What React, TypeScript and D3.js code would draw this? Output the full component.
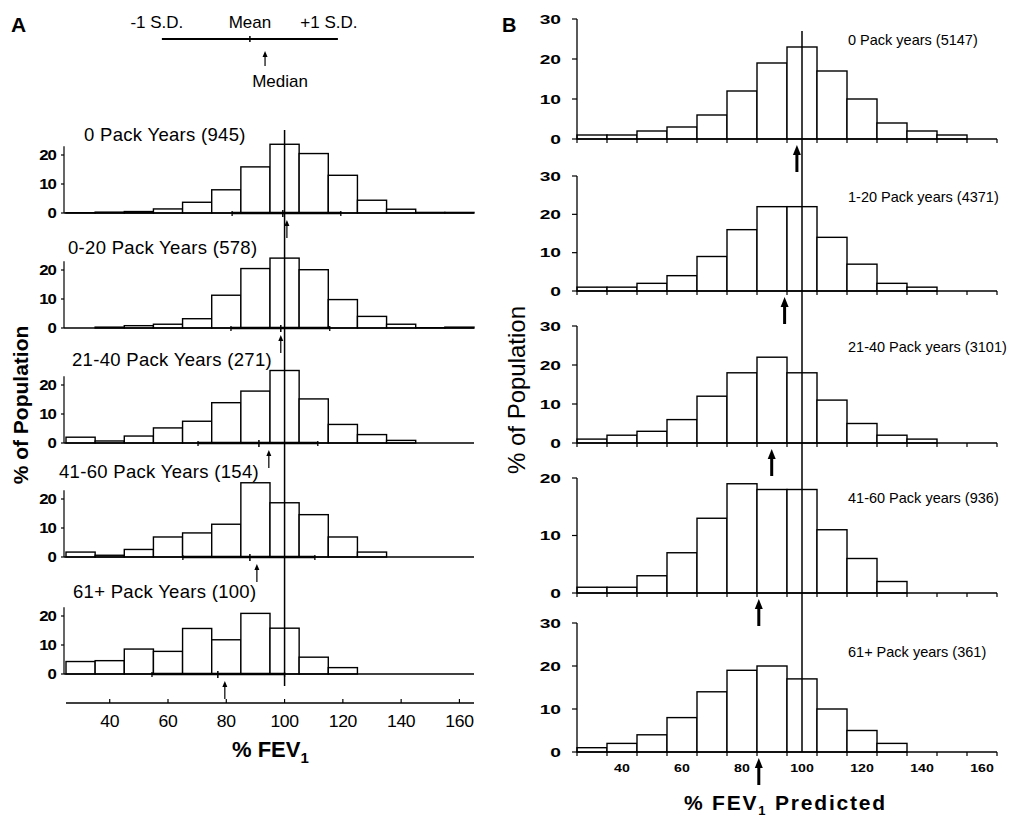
import React from 'react';
import * as d3 from 'd3';

// bin centres (% FEV1), bins are 10 wide
const binCenters = [30, 40, 50, 60, 70, 80, 90, 100, 110, 120, 130, 140, 150, 160];

// Panel A
const labelsA = [
  '0 Pack Years (945)',
  '0-20 Pack Years (578)',
  '21-40 Pack Years (271)',
  '41-60 Pack Years (154)',
  '61+ Pack Years (100)',
];
const pctA0 = [0.1, 0.3, 0.5, 1.4, 3.7, 8, 15.9, 23.7, 20.5, 13, 4.4, 1.3, 0.2, 0.2];
const pctA1 = [0, 0.3, 0.8, 1.3, 3.2, 11.3, 20.5, 24.1, 20.1, 9.8, 4, 1.3, 0.1, 0.3];
const pctA2 = [2, 0.7, 2.4, 5.2, 7.5, 13.9, 17.9, 25, 15.2, 6.4, 2.9, 0.9, 0, 0];
const pctA3 = [1.7, 0.6, 2.6, 6.9, 8.3, 11.3, 25.6, 18.7, 14.6, 6.9, 1.7, 0, 0, 0];
const pctA4 = [4.3, 4.6, 8.6, 7.8, 15.7, 11.8, 20.9, 15.8, 5.8, 2.2, 0, 0, 0, 0];
const seriesA = [pctA0, pctA1, pctA2, pctA3, pctA4];
const sdLoA = [82, 81.6, 70.3, 65.1, 54.5];
const meanA = [99.4, 98.7, 91.2, 88.1, 77.1];
const medianA = [100.8, 98.7, 94.6, 90.5, 79.5];
const sdHiA = [119.3, 115.5, 111.4, 110.4, 100];
const ticksA = [40, 60, 80, 100, 120, 140, 160];
const yTicksA = [0, 10, 20];
// schematic key: -1 SD, mean, median, +1 SD
const keyA = [57.9, 88.1, 93.3, 118.3];

// Panel B
const labelsB = [
  '0 Pack years (5147)',
  '1-20 Pack years (4371)',
  '21-40 Pack years (3101)',
  '41-60 Pack years (936)',
  '61+ Pack years (361)',
];
const pctB0 = [1, 1, 2, 3, 6, 12, 19, 23, 17, 10, 4, 2, 1, 0];
const pctB1 = [1, 1, 2, 4, 9, 16, 22, 22, 14, 7, 2, 1, 0, 0];
const pctB2 = [1, 2, 3, 6, 12, 18, 22, 18, 11, 5, 2, 1, 0, 0];
const pctB3 = [1, 1, 3, 7, 13, 19, 18, 18, 11, 6, 2, 0, 0, 0];
const pctB4 = [1, 2, 4, 8, 14, 19, 20, 17, 10, 5, 2, 0, 0, 0];
const seriesB = [pctB0, pctB1, pctB2, pctB3, pctB4];
const medianB = [98.3, 94.2, 89.9, 85.6, 85.6];
const yMaxB = [30, 30, 30, 20, 30];
const ticksB = [40, 60, 80, 100, 120, 140, 160];

const font = '"Liberation Sans", Arial, Helvetica, sans-serif';

export default function App() {
  const xA = d3.scaleLinear().domain([25, 165]).range([66, 474]);
  const xB = d3.scaleLinear().domain([25, 165]).range([577, 997]);

  const baseA = [213, 328, 443, 557, 674];
  const labelXA = [84, 68, 72, 59, 73];
  const labelYA = [141, 254, 366, 478, 598];
  const baseB = [139, 291, 443, 593, 752];
  const topB = [19, 176, 326, 478, 623];
  const labelYB = [45, 202, 352, 503, 657];

  const edgesB = d3.range(25, 166, 10);

  const arrow = (x: number, y1: number, y2: number, w: number, head: number, sw: number, key: string) => (
    <g key={key}>
      <line x1={x} x2={x} y1={y2} y2={y1 + head - 1} stroke="#000" strokeWidth={sw} />
      <path d={`M${x},${y1} L${x - w / 2},${y1 + head} L${x + w / 2},${y1 + head} Z`} fill="#000" />
    </g>
  );

  return (
    <svg width={1030} height={826} style={{ position: 'absolute', left: 0, top: 0, background: '#fff' }} fontFamily={font}>
      <rect width={1030} height={826} fill="#fff" />

      {/* ---------- Panel A ---------- */}
      <text x={11} y={32} fontSize={21} fontWeight="bold">A</text>

      {/* key */}
      <g>
        <text x={xA(keyA[0]) - 5} y={28} fontSize={17} textAnchor="middle">-1 S.D.</text>
        <text x={xA(keyA[1])} y={28} fontSize={17} textAnchor="middle">Mean</text>
        <text x={xA(keyA[3]) - 9} y={28} fontSize={17} textAnchor="middle">+1 S.D.</text>
        <line x1={xA(keyA[0])} x2={xA(keyA[3])} y1={39} y2={39} stroke="#000" strokeWidth={1.8} />
        <line x1={xA(keyA[1])} x2={xA(keyA[1])} y1={36} y2={42} stroke="#000" strokeWidth={1.5} />
        {arrow(xA(keyA[2]), 51, 66, 5, 6, 1.2, 'keyarrow')}
        <text x={xA(keyA[2]) + 15} y={87} fontSize={17} textAnchor="middle">Median</text>
      </g>

      {seriesA.map((vals, i) => {
        const b = baseA[i];
        const y = d3.scaleLinear().domain([0, 10]).range([b, b - 29]);
        return (
          <g key={'a' + i}>
            <text x={labelXA[i]} y={labelYA[i]} fontSize={18.5} letterSpacing={0.3}>{labelsA[i]}</text>
            {vals.map((v, j) =>
              v > 0 ? (
                <rect
                  key={j}
                  x={xA(binCenters[j] - 5)}
                  y={y(v)}
                  width={xA(binCenters[j] + 5) - xA(binCenters[j] - 5)}
                  height={b - y(v)}
                  fill="#fff"
                  stroke="#000"
                  strokeWidth={1.4}
                />
              ) : null
            )}
            {/* y axis */}
            <line x1={64} x2={64} y1={b} y2={y(23)} stroke="#000" strokeWidth={1.2} />
            {yTicksA.map((t) => (
              <g key={t}>
                <line x1={61} x2={64} y1={y(t)} y2={y(t)} stroke="#000" strokeWidth={1.2} />
                <text
                  transform={`translate(56,${y(t) + 5}) scale(1.2,1)`}
                  fontSize={14}
                  fontWeight="bold"
                  textAnchor="end"
                  letterSpacing={-0.8}
                >
                  {t}
                </text>
              </g>
            ))}
            {/* baseline */}
            <line x1={64} x2={474} y1={b} y2={b} stroke="#000" strokeWidth={1.3} />
            {/* +/- 1 SD and mean */}
            <line x1={xA(sdLoA[i])} x2={xA(sdHiA[i])} y1={b} y2={b} stroke="#000" strokeWidth={2.6} />
            <line x1={xA(sdLoA[i])} x2={xA(sdLoA[i])} y1={b - 2} y2={b + 3} stroke="#000" strokeWidth={1.3} />
            <line x1={xA(sdHiA[i])} x2={xA(sdHiA[i])} y1={b - 2} y2={b + 3} stroke="#000" strokeWidth={1.3} />
            <line x1={xA(meanA[i])} x2={xA(meanA[i])} y1={b - 3} y2={b + 4} stroke="#000" strokeWidth={1.5} />
            {arrow(xA(medianA[i]), b + 7, b + 25, 5, 6, 1.2, 'am' + i)}
          </g>
        );
      })}

      {/* reference line at 100% */}
      <line x1={xA(100)} x2={xA(100)} y1={130} y2={686} stroke="#000" strokeWidth={1.5} />

      {/* x axis A */}
      <line x1={66} x2={474} y1={703} y2={703} stroke="#000" strokeWidth={1.3} />
      {ticksA.map((t) => (
        <g key={t}>
          <line x1={xA(t)} x2={xA(t)} y1={699} y2={703} stroke="#000" strokeWidth={1.2} />
          <text
            transform={`translate(${xA(t)},727) scale(1.1,1)`}
            fontSize={16}
            textAnchor="middle"
            letterSpacing={-0.3}
          >
            {t}
          </text>
        </g>
      ))}
      <text x={232} y={757} fontSize={22} fontWeight="bold">
        % FEV<tspan fontSize={15} dy={6}>1</tspan>
      </text>
      <text
        transform="translate(28,405) rotate(-90)"
        fontSize={21}
        fontWeight="bold"
        textAnchor="middle"
      >
        % of Population
      </text>

      {/* ---------- Panel B ---------- */}
      <text x={502} y={32} fontSize={20} fontWeight="bold">B</text>

      {seriesB.map((vals, i) => {
        const b = baseB[i];
        const y = d3.scaleLinear().domain([0, yMaxB[i]]).range([b, topB[i]]);
        const yt = d3.range(0, yMaxB[i] + 1, 10);
        return (
          <g key={'b' + i}>
            <text x={848} y={labelYB[i]} fontSize={14.5}>{labelsB[i]}</text>
            {vals.map((v, j) =>
              v > 0 ? (
                <rect
                  key={j}
                  x={xB(binCenters[j] - 5)}
                  y={y(v)}
                  width={xB(binCenters[j] + 5) - xB(binCenters[j] - 5)}
                  height={b - y(v)}
                  fill="#fff"
                  stroke="#000"
                  strokeWidth={1.4}
                />
              ) : null
            )}
            <line x1={577} x2={577} y1={b} y2={topB[i]} stroke="#000" strokeWidth={1.3} />
            {yt.map((t) => (
              <g key={t}>
                <line x1={572} x2={577} y1={y(t)} y2={y(t)} stroke="#000" strokeWidth={1.2} />
                <text
                  transform={`translate(561,${y(t) + 4.5}) scale(1.6,1)`}
                  fontSize={12}
                  fontWeight="bold"
                  textAnchor="end"
                >
                  {t}
                </text>
              </g>
            ))}
            <line x1={577} x2={997} y1={b} y2={b} stroke="#000" strokeWidth={1.4} />
            {edgesB.map((e) => (
              <line key={e} x1={xB(e)} x2={xB(e)} y1={b} y2={b + 4} stroke="#000" strokeWidth={1.2} />
            ))}
            {arrow(xB(medianB[i]), b + 6, b + 33, 8, 10, 3, 'bm' + i)}
          </g>
        );
      })}

      <line x1={xB(100)} x2={xB(100)} y1={31} y2={752} stroke="#000" strokeWidth={1.5} />

      {ticksB.map((t) => (
        <text
          key={t}
          transform={`translate(${xB(t)},772) scale(1.35,1)`}
          fontSize={10.5}
          fontWeight="bold"
          textAnchor="middle"
        >
          {t}
        </text>
      ))}
      <text x={684} y={810} fontSize={21} fontWeight="bold" letterSpacing={1.8}>
        % FEV<tspan fontSize={13} dy={5}>1</tspan>
        <tspan dy={-5}> Predicted</tspan>
      </text>
      <text
        transform="translate(525,390) rotate(-90)"
        fontSize={24}
        textAnchor="middle"
      >
        % of Population
      </text>
    </svg>
  );
}
